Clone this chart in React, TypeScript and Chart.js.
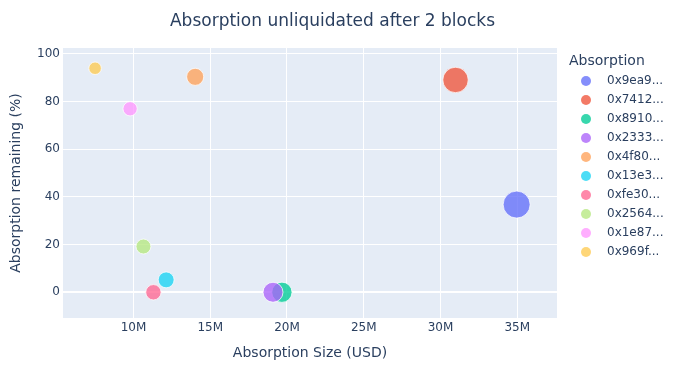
import React, { useEffect, useRef } from "react";
import { Chart, registerables } from "chart.js";

Chart.register(...registerables);

// ---- data ----
const wallets = [
  "0x9ea9...",
  "0x7412...",
  "0x8910...",
  "0x2333...",
  "0x4f80...",
  "0x13e3...",
  "0xfe30...",
  "0x2564...",
  "0x1e87...",
  "0x969f...",
];
const absorptionSizeUsd = [
  34960000, 30980000, 19670000, 19090000, 14020000, 12130000, 11300000, 10650000, 9780000, 7500000,
];
const absorptionRemainingPct = [36.8, 89.1, 0, 0, 90.4, 5.2, 0, 19.2, 77.0, 94.0];
const walletColors = [
  "#636efa",
  "#EF553B",
  "#00cc96",
  "#ab63fa",
  "#FFA15A",
  "#19d3f3",
  "#FF6692",
  "#B6E880",
  "#FF97FF",
  "#FECB52",
];
const xTickValues = [10e6, 15e6, 20e6, 25e6, 30e6, 35e6];
const yTickValues = [0, 20, 40, 60, 80, 100];

const TITLE = "Absorption unliquidated after 2 blocks";
const X_TITLE = "Absorption Size (USD)";
const Y_TITLE = "Absorption remaining (%)";
const LEGEND_TITLE = "Absorption";

const TEXT = "#2a3f5f";
const FONT = "'DejaVu Sans', Verdana, sans-serif";
const MAX_R = 13.5;
const OPACITY = 0.78;

function withAlpha(hex: string, a: number) {
  const h = hex.replace("#", "");
  const r = parseInt(h.slice(0, 2), 16);
  const g = parseInt(h.slice(2, 4), 16);
  const b = parseInt(h.slice(4, 6), 16);
  return `rgba(${r},${g},${b},${a})`;
}

const plotBg = {
  id: "plotBg",
  beforeDraw(chart: any) {
    const { ctx, chartArea } = chart;
    ctx.save();
    ctx.fillStyle = "#E5ECF6";
    ctx.fillRect(chartArea.left, chartArea.top, chartArea.right - chartArea.left, chartArea.bottom - chartArea.top);
    ctx.restore();
  },
};

const sideLegend = {
  id: "sideLegend",
  afterDraw(chart: any) {
    const { ctx, chartArea } = chart;
    const x0 = chartArea.right;
    const y0 = chartArea.top;
    ctx.save();
    ctx.fillStyle = TEXT;
    ctx.textBaseline = "middle";
    ctx.textAlign = "left";
    ctx.font = `14px ${FONT}`;
    ctx.fillText(LEGEND_TITLE, x0 + 12, y0 + 13);
    ctx.font = `12px ${FONT}`;
    chart.data.datasets.forEach((ds: any, i: number) => {
      const y = y0 + 33 + i * 19;
      ctx.beginPath();
      ctx.arc(x0 + 29, y, 5, 0, Math.PI * 2);
      ctx.fillStyle = withAlpha(walletColors[i], OPACITY);
      ctx.fill();
      ctx.fillStyle = TEXT;
      ctx.fillText(ds.label, x0 + 50, y);
    });
    ctx.restore();
  },
};

export default function App() {
  const ref = useRef<HTMLCanvasElement | null>(null);

  useEffect(() => {
    document.body.style.margin = "0";
    if (!ref.current) return;
    Chart.defaults.font.family = FONT;
    Chart.defaults.color = TEXT;
    const maxSize = Math.max(...absorptionSizeUsd);

    const datasets = wallets.map((w, i) => ({
      label: w,
      data: [
        {
          x: absorptionSizeUsd[i],
          y: absorptionRemainingPct[i],
          r: MAX_R * Math.sqrt(absorptionSizeUsd[i] / maxSize),
        },
      ],
      backgroundColor: withAlpha(walletColors[i], OPACITY),
      borderColor: "rgba(255,255,255,0.75)",
      borderWidth: 1,
      order: wallets.length - i,
    }));

    const chart = new Chart(ref.current, {
      type: "bubble",
      data: { datasets },
      options: {
        responsive: false,
        animation: false,
        events: [],
        layout: { padding: { left: 0, right: 8, top: 0, bottom: 0 } },
        plugins: {
          legend: { display: false },
          tooltip: { enabled: false },
          title: {
            display: true,
            text: TITLE,
            color: TEXT,
            font: { size: 17, weight: "normal", family: FONT },
            padding: { top: 11, bottom: 16.6 },
          },
        },
        scales: {
          x: {
            type: "linear",
            min: 5.41e6,
            max: 37.59e6,
            afterBuildTicks: (s: any) => {
              s.ticks = xTickValues.map((v) => ({ value: v }));
            },
            afterFit: (s: any) => {
              s.height = 62;
            },
            grid: { color: "#ffffff", lineWidth: 1, drawTicks: false },
            border: { display: false },
            ticks: {
              padding: 3,
              color: TEXT,
              font: { size: 12 },
              maxRotation: 0,
              callback: (v: any) => `${Number(v) / 1e6}M`,
            },
            title: {
              display: true,
              text: X_TITLE,
              color: TEXT,
              font: { size: 14 },
              padding: { top: 0, bottom: 18.3 },
            },
          },
          y: {
            type: "linear",
            min: -10.8,
            max: 102.5,
            afterBuildTicks: (s: any) => {
              s.ticks = yTickValues.map((v) => ({ value: v }));
            },
            afterFit: (s: any) => {
              s.width = 63;
            },
            grid: {
              color: "#ffffff",
              lineWidth: (c: any) => (c.tick && c.tick.value === 0 ? 2 : 1),
              drawTicks: false,
            },
            border: { display: false },
            ticks: {
              padding: 3,
              color: TEXT,
              font: { size: 12 },
            },
            title: {
              display: true,
              text: Y_TITLE,
              color: TEXT,
              font: { size: 14 },
              padding: { top: 8, bottom: 0 },
            },
          },
          legendSpace: {
            type: "linear",
            position: "right",
            display: true,
            grid: { display: false, drawTicks: false },
            border: { display: false },
            ticks: { display: false },
            afterFit: (s: any) => {
              s.width = 108;
            },
          },
        },
      },
      plugins: [plotBg, sideLegend],
    } as any);

    return () => chart.destroy();
  }, []);

  return (
    <div style={{ position: "absolute", left: 0, top: 0, width: 673, height: 380 }}>
      <canvas ref={ref} width={673} height={380} style={{ display: "block", width: 673, height: 380 }} />
    </div>
  );
}
